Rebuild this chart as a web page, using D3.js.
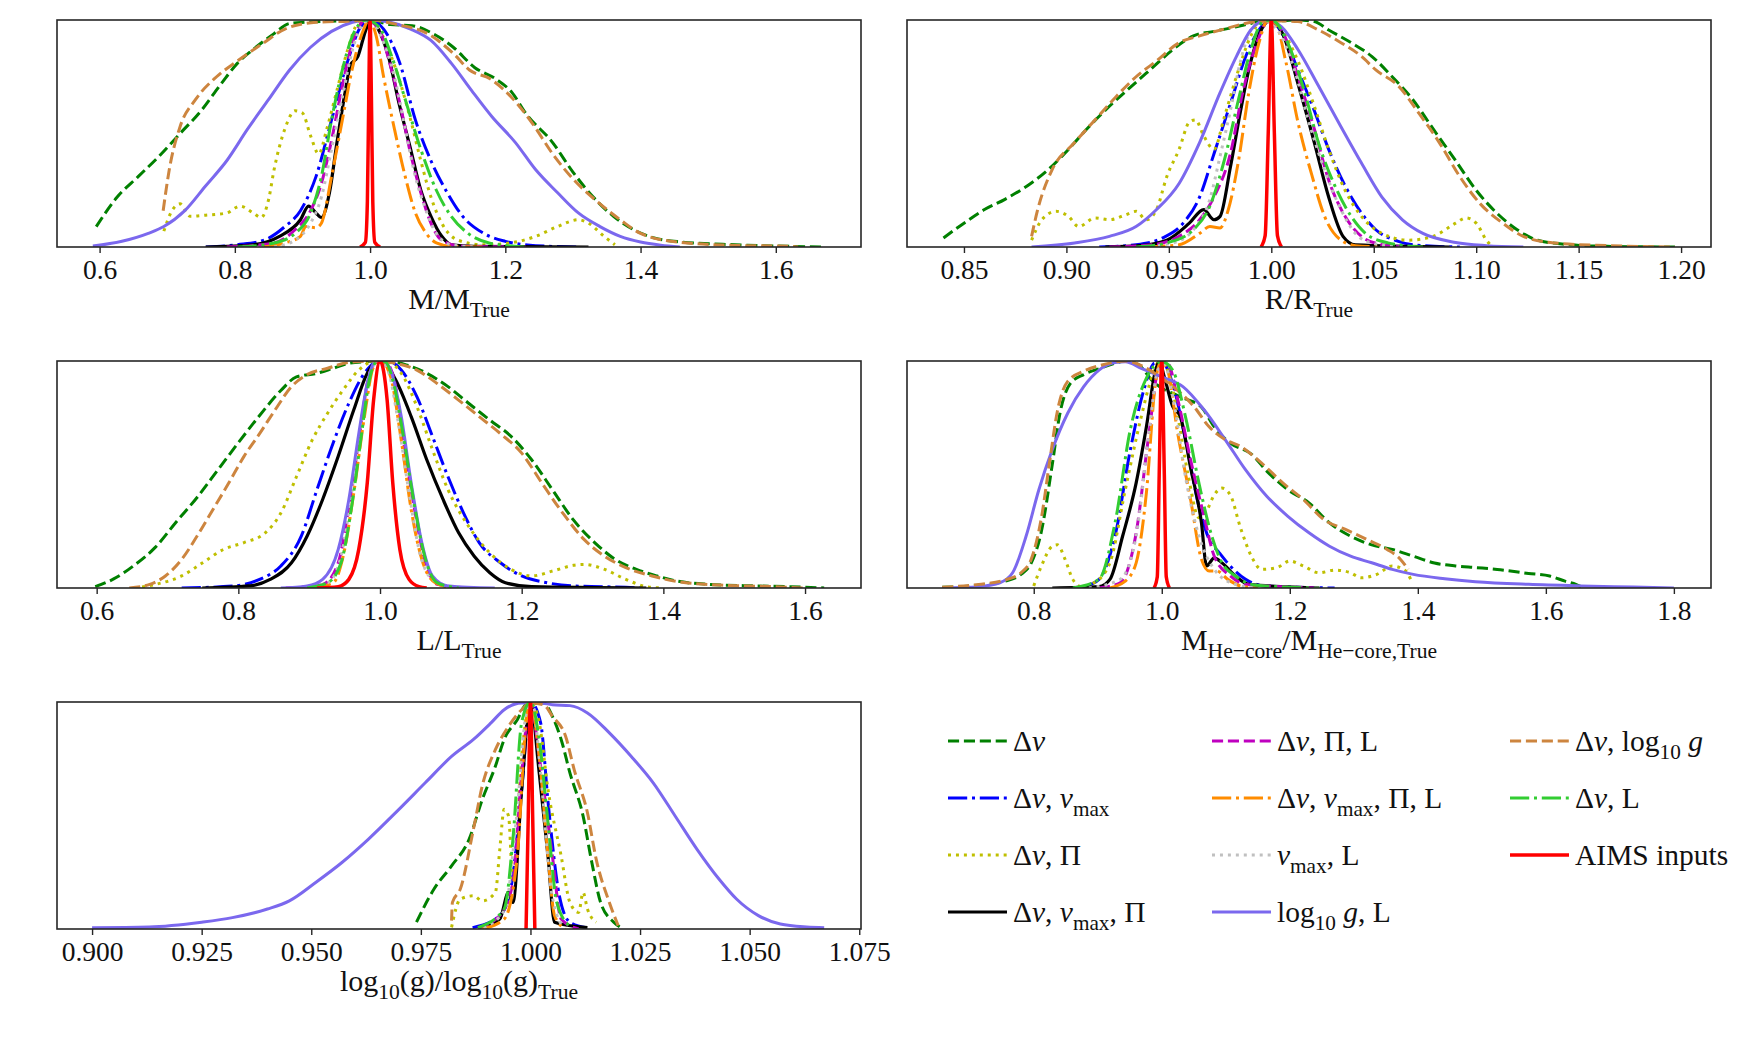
<!DOCTYPE html>
<html><head><meta charset="utf-8">
<script src="https://cdn.jsdelivr.net/npm/d3@7"></script>
<style>body{margin:0;background:#fff}</style>
</head><body>
<svg id="c" width="1756" height="1041"></svg>
<script>
// ---------- series (plot order == legend order, column-major) ----------
const seriesLabels = [
  "Δ*ν*", "Δ*ν*, *ν*_{max}", "Δ*ν*, Π", "Δ*ν*, *ν*_{max}, Π",
  "Δ*ν*, Π, L", "Δ*ν*, *ν*_{max}, Π, L", "*ν*_{max}, L", "log_{10} *g*, L",
  "Δ*ν*, log_{10} *g*", "Δ*ν*, L", "AIMS inputs"
];

// ---------- panel axes ----------
const massTicks = [0.6, 0.8, 1.0, 1.2, 1.4, 1.6];
const radiusTicks = [0.85, 0.90, 0.95, 1.00, 1.05, 1.10, 1.15, 1.20];
const lumTicks = [0.6, 0.8, 1.0, 1.2, 1.4, 1.6];
const coreTicks = [0.8, 1.0, 1.2, 1.4, 1.6, 1.8];
const loggTicks = [0.900, 0.925, 0.950, 0.975, 1.000, 1.025, 1.050, 1.075];
const massRange = [0.537, 1.726];
const radiusRange = [0.8222, 1.2146];
const lumRange = [0.544, 1.679];
const coreRange = [0.602, 1.858];
const loggRange = [0.892, 1.0754];

// ---------- curves: [ratio, normalised density] ----------
const massCurves = [
  [[0.595,0.09],[0.626,0.22],[0.657,0.31],[0.688,0.40],[0.719,0.50],[0.75,0.60],[0.78,0.72],[0.804,0.81],[0.827,0.87],[0.858,0.94],[0.881,0.985],[0.905,0.99],[0.943,0.995],[1.0,1.0],[1.03,0.98],[1.062,0.975],[1.093,0.94],[1.123,0.88],[1.155,0.79],[1.186,0.74],[1.21,0.68],[1.23,0.59],[1.27,0.46],[1.30,0.33],[1.33,0.22],[1.36,0.135],[1.39,0.076],[1.42,0.04],[1.46,0.022],[1.54,0.01],[1.62,0.003],[1.672,0]],
  [[0.757,0],[0.804,0.01],[0.843,0.03],[0.874,0.09],[0.897,0.16],[0.92,0.31],[0.943,0.56],[0.967,0.82],[0.986,0.97],[1.0,1.0],[1.02,0.96],[1.044,0.81],[1.067,0.56],[1.09,0.38],[1.114,0.24],[1.137,0.135],[1.168,0.06],[1.2,0.025],[1.245,0.006],[1.31,0]],
  [[0.695,0.07],[0.707,0.16],[0.719,0.19],[0.734,0.135],[0.757,0.14],[0.788,0.15],[0.808,0.18],[0.827,0.15],[0.839,0.13],[0.85,0.21],[0.858,0.34],[0.874,0.52],[0.889,0.60],[0.90,0.59],[0.912,0.49],[0.924,0.41],[0.936,0.52],[0.951,0.69],[0.967,0.87],[0.982,0.985],[0.998,1.0],[1.013,0.96],[1.03,0.85],[1.045,0.72],[1.06,0.56],[1.075,0.38],[1.09,0.22],[1.106,0.105],[1.13,0.03],[1.168,0.01],[1.207,0.018],[1.245,0.047],[1.277,0.09],[1.308,0.12],[1.323,0.105],[1.346,0.047],[1.362,0.01]],
  [[0.757,0],[0.827,0.01],[0.866,0.047],[0.897,0.12],[0.909,0.18],[0.92,0.15],[0.928,0.13],[0.94,0.24],[0.951,0.46],[0.963,0.68],[0.971,0.80],[0.982,0.84],[0.993,0.95],[1.0,1.0],[1.012,0.96],[1.028,0.83],[1.043,0.63],[1.06,0.43],[1.075,0.25],[1.09,0.135],[1.106,0.047],[1.12,0.01],[1.153,0.003],[1.323,0]],
  [[0.788,0],[0.858,0.018],[0.889,0.076],[0.912,0.16],[0.928,0.28],[0.943,0.47],[0.959,0.71],[0.974,0.90],[0.994,1.0],[1.013,0.96],[1.029,0.81],[1.045,0.62],[1.06,0.41],[1.075,0.24],[1.09,0.105],[1.106,0.03],[1.137,0.003],[1.23,0]],
  [[0.843,0],[0.874,0.018],[0.897,0.047],[0.905,0.09],[0.92,0.085],[0.928,0.105],[0.943,0.31],[0.959,0.56],[0.974,0.79],[0.99,0.955],[0.998,1.0],[1.009,0.93],[1.02,0.75],[1.036,0.52],[1.052,0.31],[1.067,0.15],[1.083,0.06],[1.098,0.018],[1.12,0.003],[1.17,0]],
  [[0.858,0],[0.889,0.03],[0.912,0.105],[0.928,0.22],[0.943,0.43],[0.959,0.66],[0.974,0.87],[0.99,0.985],[1.0,1.0],[1.016,0.93],[1.036,0.75],[1.052,0.52],[1.067,0.31],[1.083,0.16],[1.098,0.06],[1.12,0.01],[1.153,0]],
  [[0.59,0.004],[0.633,0.025],[0.672,0.06],[0.695,0.09],[0.726,0.16],[0.757,0.27],[0.788,0.38],[0.819,0.52],[0.85,0.65],[0.881,0.78],[0.912,0.88],[0.943,0.95],[0.974,0.99],[0.998,1.0],[1.03,0.99],[1.06,0.96],[1.09,0.91],[1.12,0.81],[1.15,0.69],[1.18,0.575],[1.215,0.46],[1.245,0.34],[1.277,0.24],[1.308,0.15],[1.34,0.09],[1.37,0.047],[1.40,0.022],[1.43,0.008],[1.458,0]],
  [[0.694,0.16],[0.703,0.34],[0.719,0.53],[0.742,0.65],[0.773,0.75],[0.804,0.82],[0.843,0.90],[0.874,0.96],[0.92,0.99],[0.967,0.995],[1.0,1.0],[1.04,0.98],[1.085,0.94],[1.124,0.85],[1.147,0.78],[1.178,0.74],[1.209,0.66],[1.24,0.545],[1.27,0.41],[1.30,0.30],[1.34,0.19],[1.37,0.12],[1.40,0.06],[1.46,0.02],[1.54,0.007],[1.62,0.003],[1.633,0]],
  [[0.804,0],[0.858,0.018],[0.889,0.06],[0.912,0.15],[0.928,0.31],[0.943,0.56],[0.959,0.78],[0.974,0.93],[0.994,1.0],[1.013,0.97],[1.032,0.84],[1.052,0.65],[1.075,0.43],[1.098,0.25],[1.12,0.135],[1.145,0.06],[1.176,0.018],[1.23,0]],
  [[0.985,0],[0.993,0.02],[0.996,0.2],[0.998,0.65],[1.0,1.0],[1.002,0.65],[1.004,0.2],[1.007,0.02],[1.015,0]]
];

const radiusCurves = [
  [[0.84,0.04],[0.85,0.105],[0.86,0.165],[0.87,0.21],[0.881,0.27],[0.891,0.34],[0.901,0.43],[0.911,0.53],[0.921,0.62],[0.932,0.71],[0.942,0.79],[0.952,0.87],[0.962,0.93],[0.972,0.95],[0.983,0.97],[0.993,0.99],[1.003,0.995],[1.013,1.0],[1.021,0.993],[1.028,0.956],[1.039,0.90],[1.049,0.84],[1.059,0.75],[1.069,0.65],[1.079,0.52],[1.09,0.38],[1.10,0.25],[1.11,0.15],[1.12,0.076],[1.13,0.03],[1.146,0.01],[1.164,0.003],[1.197,0]],
  [[0.916,0],[0.934,0.01],[0.947,0.04],[0.957,0.105],[0.965,0.22],[0.972,0.41],[0.98,0.63],[0.988,0.85],[0.994,0.956],[0.999,1.0],[1.006,0.93],[1.013,0.78],[1.021,0.60],[1.028,0.43],[1.036,0.27],[1.044,0.15],[1.051,0.076],[1.062,0.025],[1.074,0.006],[1.092,0]],
  [[0.883,0.03],[0.888,0.12],[0.895,0.157],[0.901,0.135],[0.906,0.09],[0.914,0.128],[0.921,0.12],[0.929,0.142],[0.934,0.157],[0.939,0.12],[0.944,0.165],[0.949,0.31],[0.955,0.43],[0.96,0.55],[0.963,0.56],[0.967,0.49],[0.972,0.43],[0.977,0.57],[0.984,0.78],[0.99,0.93],[0.995,0.993],[1.0,1.0],[1.005,0.956],[1.013,0.82],[1.021,0.62],[1.028,0.43],[1.036,0.25],[1.044,0.135],[1.054,0.06],[1.067,0.03],[1.079,0.047],[1.09,0.105],[1.095,0.128],[1.10,0.105],[1.105,0.03],[1.108,0]],
  [[0.919,0],[0.936,0.006],[0.949,0.03],[0.96,0.105],[0.967,0.165],[0.972,0.12],[0.975,0.135],[0.98,0.35],[0.985,0.60],[0.989,0.78],[0.993,0.91],[0.998,0.993],[1.0,1.0],[1.006,0.93],[1.013,0.72],[1.021,0.46],[1.028,0.22],[1.035,0.047],[1.041,0.01],[1.087,0]],
  [[0.921,0],[0.942,0.01],[0.955,0.047],[0.965,0.12],[0.972,0.22],[0.98,0.41],[0.986,0.68],[0.993,0.90],[0.999,1.0],[1.006,0.94],[1.013,0.75],[1.021,0.52],[1.028,0.295],[1.036,0.135],[1.044,0.047],[1.054,0.01],[1.064,0]],
  [[0.939,0],[0.955,0.01],[0.965,0.06],[0.97,0.09],[0.975,0.084],[0.979,0.164],[0.984,0.38],[0.989,0.68],[0.994,0.90],[0.998,0.993],[1.002,0.985],[1.007,0.82],[1.013,0.55],[1.02,0.31],[1.026,0.135],[1.034,0.03],[1.041,0.006],[1.054,0]],
  [[0.937,0],[0.952,0.018],[0.962,0.076],[0.97,0.21],[0.975,0.40],[0.98,0.60],[0.985,0.82],[0.99,0.956],[0.995,1.0],[1.003,0.956],[1.011,0.79],[1.018,0.56],[1.026,0.34],[1.034,0.165],[1.041,0.06],[1.049,0.018],[1.062,0]],
  [[0.883,0],[0.904,0.018],[0.921,0.047],[0.934,0.09],[0.944,0.165],[0.955,0.28],[0.965,0.46],[0.975,0.68],[0.983,0.84],[0.99,0.956],[0.998,1.0],[1.005,0.97],[1.013,0.87],[1.023,0.71],[1.034,0.53],[1.044,0.37],[1.054,0.22],[1.064,0.12],[1.074,0.06],[1.09,0.02],[1.105,0.006],[1.123,0]],
  [[0.883,0.047],[0.886,0.165],[0.893,0.34],[0.904,0.46],[0.914,0.56],[0.924,0.66],[0.934,0.75],[0.944,0.82],[0.955,0.90],[0.965,0.93],[0.977,0.96],[0.993,0.993],[1.005,0.996],[1.013,0.993],[1.023,0.956],[1.034,0.90],[1.044,0.84],[1.051,0.78],[1.062,0.71],[1.072,0.59],[1.082,0.46],[1.092,0.31],[1.102,0.19],[1.113,0.105],[1.123,0.047],[1.138,0.018],[1.164,0.006],[1.197,0]],
  [[0.934,0],[0.949,0.018],[0.962,0.076],[0.97,0.18],[0.977,0.38],[0.984,0.65],[0.99,0.87],[0.996,0.993],[1.0,1.0],[1.008,0.90],[1.016,0.69],[1.023,0.46],[1.031,0.27],[1.039,0.135],[1.046,0.06],[1.057,0.018],[1.074,0]],
  [[0.995,0],[0.997,0.05],[0.9985,0.5],[1.0,1.0],[1.0015,0.5],[1.003,0.05],[1.005,0]]
];

const lumCurves = [
  [[0.598,0.006],[0.624,0.04],[0.653,0.1],[0.683,0.18],[0.712,0.29],[0.742,0.40],[0.771,0.52],[0.80,0.64],[0.83,0.76],[0.86,0.87],[0.882,0.93],[0.911,0.946],[0.934,0.968],[0.956,0.99],[0.978,0.997],[1.007,1.0],[1.037,0.983],[1.066,0.946],[1.096,0.887],[1.125,0.814],[1.155,0.74],[1.185,0.668],[1.214,0.565],[1.244,0.43],[1.273,0.30],[1.303,0.2],[1.332,0.126],[1.362,0.082],[1.391,0.053],[1.42,0.03],[1.465,0.016],[1.531,0.009],[1.598,0.004],[1.627,0]],
  [[0.72,0],[0.793,0.009],[0.83,0.038],[0.86,0.097],[0.889,0.23],[0.911,0.433],[0.934,0.64],[0.956,0.814],[0.978,0.946],[0.996,0.997],[1.011,1.0],[1.03,0.96],[1.052,0.843],[1.074,0.668],[1.096,0.49],[1.118,0.33],[1.14,0.2],[1.17,0.111],[1.2,0.053],[1.236,0.023],[1.273,0.009],[1.347,0.003],[1.369,0]],
  [[0.653,0],[0.683,0.016],[0.72,0.053],[0.749,0.11],[0.779,0.17],[0.808,0.2],[0.838,0.243],[0.86,0.33],[0.882,0.49],[0.904,0.65],[0.926,0.77],[0.948,0.873],[0.97,0.96],[0.989,0.997],[1.007,1.0],[1.03,0.946],[1.052,0.80],[1.074,0.61],[1.096,0.433],[1.125,0.272],[1.155,0.155],[1.185,0.082],[1.214,0.053],[1.244,0.075],[1.273,0.1],[1.288,0.104],[1.317,0.082],[1.347,0.038],[1.376,0.006],[1.398,0]],
  [[0.749,0],[0.815,0.009],[0.845,0.038],[0.875,0.111],[0.897,0.228],[0.919,0.39],[0.941,0.58],[0.963,0.785],[0.982,0.946],[0.996,0.997],[1.007,0.99],[1.022,0.917],[1.044,0.755],[1.066,0.565],[1.089,0.39],[1.111,0.243],[1.133,0.14],[1.155,0.067],[1.177,0.023],[1.214,0.006],[1.376,0]],
  [[0.867,0],[0.919,0.016],[0.941,0.111],[0.956,0.36],[0.97,0.65],[0.984,0.93],[0.996,0.997],[1.007,0.997],[1.02,0.917],[1.033,0.65],[1.048,0.36],[1.063,0.126],[1.081,0.016],[1.125,0]],
  [[0.904,0],[0.934,0.023],[0.948,0.14],[0.963,0.42],[0.978,0.755],[0.991,0.975],[1.001,1.0],[1.015,0.93],[1.03,0.65],[1.044,0.345],[1.059,0.126],[1.078,0.023],[1.103,0]],
  [[0.882,0],[0.926,0.023],[0.945,0.14],[0.96,0.42],[0.974,0.74],[0.987,0.96],[0.999,1.0],[1.011,0.96],[1.026,0.726],[1.041,0.42],[1.055,0.17],[1.074,0.038],[1.111,0]],
  [[0.86,0],[0.897,0.009],[0.919,0.038],[0.941,0.17],[0.956,0.39],[0.97,0.68],[0.982,0.90],[0.993,0.997],[1.004,1.0],[1.015,0.96],[1.03,0.755],[1.044,0.463],[1.059,0.2],[1.074,0.053],[1.096,0.009],[1.162,0]],
  [[0.646,0],[0.675,0.016],[0.697,0.053],[0.72,0.126],[0.742,0.23],[0.764,0.345],[0.786,0.46],[0.808,0.58],[0.83,0.68],[0.852,0.785],[0.875,0.887],[0.897,0.94],[0.926,0.968],[0.956,0.994],[0.993,1.0],[1.022,0.99],[1.052,0.96],[1.081,0.90],[1.11,0.83],[1.14,0.755],[1.17,0.68],[1.20,0.594],[1.229,0.46],[1.258,0.33],[1.288,0.214],[1.317,0.14],[1.347,0.09],[1.384,0.053],[1.42,0.028],[1.48,0.013],[1.553,0.006],[1.598,0]],
  [[0.897,0],[0.926,0.023],[0.945,0.111],[0.96,0.36],[0.974,0.68],[0.985,0.917],[0.996,0.997],[1.007,0.997],[1.018,0.917],[1.033,0.668],[1.048,0.375],[1.063,0.14],[1.081,0.023],[1.111,0]],
  [[0.911,0],[0.941,0.006],[0.956,0.038],[0.97,0.17],[0.982,0.463],[0.991,0.83],[1.0,1.0],[1.01,0.83],[1.018,0.463],[1.028,0.17],[1.041,0.038],[1.055,0.006],[1.066,0]]
];

const coreCurves = [
  [[0.657,0.003],[0.714,0.012],[0.755,0.03],[0.78,0.06],[0.796,0.11],[0.812,0.25],[0.829,0.545],[0.841,0.77],[0.857,0.90],[0.878,0.94],[0.902,0.966],[0.927,0.99],[0.943,1.0],[0.964,0.983],[0.984,0.917],[1.0,0.88],[1.017,0.857],[1.037,0.833],[1.062,0.797],[1.082,0.71],[1.107,0.638],[1.14,0.59],[1.164,0.515],[1.197,0.433],[1.23,0.375],[1.262,0.287],[1.295,0.228],[1.328,0.19],[1.36,0.17],[1.393,0.14],[1.426,0.11],[1.459,0.097],[1.49,0.09],[1.524,0.082],[1.573,0.064],[1.606,0.053],[1.63,0.03],[1.647,0.016],[1.655,0.006]],
  [[0.878,0.006],[0.902,0.038],[0.927,0.23],[0.951,0.61],[0.972,0.873],[0.988,0.99],[1.0,0.997],[1.017,0.90],[1.037,0.654],[1.058,0.36],[1.074,0.214],[1.09,0.155],[1.107,0.097],[1.131,0.038],[1.164,0.009],[1.27,0]],
  [[0.8,0.009],[0.812,0.097],[0.829,0.184],[0.837,0.19],[0.849,0.126],[0.861,0.038],[0.874,0.006],[0.894,0.023],[0.919,0.111],[0.943,0.433],[0.968,0.755],[0.984,0.925],[0.996,0.997],[1.009,0.96],[1.025,0.755],[1.041,0.5],[1.058,0.31],[1.07,0.34],[1.082,0.41],[1.094,0.44],[1.107,0.41],[1.123,0.265],[1.14,0.14],[1.156,0.082],[1.18,0.09],[1.2,0.119],[1.221,0.097],[1.246,0.067],[1.27,0.079],[1.295,0.067],[1.311,0.045],[1.336,0.06],[1.36,0.097],[1.381,0.075],[1.389,0.038]],
  [[0.829,0],[0.902,0.006],[0.919,0.038],[0.939,0.23],[0.96,0.463],[0.976,0.71],[0.99,0.955],[0.996,0.997],[1.004,0.93],[1.017,0.80],[1.029,0.755],[1.045,0.53],[1.062,0.287],[1.07,0.097],[1.082,0.133],[1.094,0.111],[1.115,0.053],[1.136,0.016],[1.246,0]],
  [[0.902,0],[0.935,0.023],[0.96,0.243],[0.98,0.68],[0.996,0.975],[1.009,0.99],[1.025,0.83],[1.045,0.565],[1.066,0.316],[1.082,0.14],[1.107,0.053],[1.131,0.016],[1.246,0]],
  [[0.919,0],[0.943,0.03],[0.96,0.111],[0.976,0.42],[0.99,0.90],[0.998,0.997],[1.009,0.96],[1.025,0.68],[1.045,0.39],[1.062,0.126],[1.074,0.075],[1.086,0.075],[1.103,0.038],[1.123,0.009],[1.15,0]],
  [[0.886,0],[0.935,0.038],[0.96,0.23],[0.98,0.68],[0.994,0.96],[1.004,0.983],[1.02,0.80],[1.037,0.49],[1.058,0.23],[1.082,0.082],[1.115,0.016],[1.148,0]],
  [[0.657,0],[0.714,0.006],[0.747,0.023],[0.767,0.067],[0.788,0.228],[0.808,0.433],[0.829,0.61],[0.853,0.77],[0.878,0.887],[0.902,0.96],[0.927,0.993],[0.943,0.997],[0.968,0.968],[1.0,0.93],[1.033,0.887],[1.066,0.785],[1.099,0.654],[1.131,0.52],[1.164,0.404],[1.197,0.316],[1.23,0.243],[1.262,0.184],[1.295,0.14],[1.328,0.111],[1.36,0.082],[1.393,0.06],[1.442,0.041],[1.49,0.028],[1.573,0.016],[1.655,0.009],[1.737,0.004],[1.80,0]],
  [[0.657,0.003],[0.714,0.016],[0.755,0.035],[0.78,0.067],[0.796,0.126],[0.812,0.31],[0.825,0.56],[0.837,0.78],[0.853,0.91],[0.878,0.955],[0.91,0.985],[0.943,1.0],[0.976,0.968],[1.0,0.924],[1.025,0.87],[1.05,0.80],[1.074,0.71],[1.099,0.654],[1.123,0.624],[1.156,0.55],[1.189,0.463],[1.221,0.39],[1.254,0.30],[1.287,0.258],[1.32,0.214],[1.352,0.17],[1.373,0.126],[1.385,0.082]],
  [[0.861,0],[0.902,0.038],[0.927,0.287],[0.951,0.70],[0.976,0.925],[1.0,0.997],[1.017,0.96],[1.037,0.755],[1.058,0.463],[1.078,0.23],[1.094,0.111],[1.115,0.053],[1.148,0.012],[1.246,0]],
  [[0.988,0],[0.993,0.05],[0.996,0.5],[1.0,1.0],[1.004,0.5],[1.007,0.05],[1.012,0]]
];

const loggCurves = [
  [[0.974,0.03],[0.978,0.176],[0.982,0.278],[0.986,0.395],[0.989,0.57],[0.992,0.717],[0.994,0.835],[0.997,0.922],[0.999,0.988],[1.003,0.996],[1.005,0.937],[1.007,0.835],[1.009,0.688],[1.012,0.498],[1.014,0.293],[1.016,0.117],[1.019,0.03],[1.021,0.003]],
  [[0.9868,0.006],[0.993,0.059],[0.9955,0.176],[0.998,0.615],[1.0,1.0],[1.0023,0.91],[1.0041,0.542],[1.0066,0.146],[1.009,0.03],[1.0128,0.006]],
  [[0.982,0.007],[0.984,0.132],[0.987,0.146],[0.989,0.124],[0.992,0.161],[0.993,0.35],[0.994,0.527],[0.995,0.498],[0.996,0.205],[0.998,0.76],[1.0,1.0],[1.002,0.91],[1.004,0.615],[1.007,0.322],[1.009,0.117],[1.011,0.073],[1.012,0.161],[1.013,0.088],[1.015,0.03]],
  [[0.988,0.006],[0.993,0.044],[0.995,0.161],[0.996,0.117],[0.998,0.615],[1.0,1.0],[1.002,0.688],[1.004,0.322],[1.0055,0.03],[1.013,0.006]],
  [[0.988,0.006],[0.993,0.059],[0.996,0.205],[0.998,0.688],[1.0,1.0],[1.002,0.76],[1.005,0.322],[1.007,0.044],[1.011,0]],
  [[0.989,0],[0.994,0.044],[0.997,0.322],[0.999,0.91],[1.0,1.0],[1.002,0.76],[1.004,0.322],[1.0055,0.059],[1.008,0]],
  [[0.9893,0.006],[0.9942,0.088],[0.9967,0.468],[0.9992,0.966],[1.0004,1.0],[1.0023,0.688],[1.0047,0.176],[1.0072,0.015]],
  [[0.9,0.006],[0.913,0.009],[0.925,0.03],[0.932,0.05],[0.94,0.088],[0.945,0.124],[0.951,0.205],[0.957,0.293],[0.963,0.395],[0.97,0.527],[0.976,0.644],[0.982,0.76],[0.987,0.835],[0.991,0.908],[0.994,0.966],[0.998,0.996],[1.002,0.996],[1.005,0.988],[1.009,0.984],[1.013,0.952],[1.018,0.864],[1.023,0.76],[1.028,0.644],[1.033,0.498],[1.038,0.351],[1.043,0.22],[1.047,0.132],[1.052,0.059],[1.057,0.022],[1.063,0.009],[1.067,0.006]],
  [[0.982,0.037],[0.9822,0.117],[0.984,0.176],[0.987,0.44],[0.989,0.63],[0.992,0.79],[0.995,0.893],[0.998,0.966],[1.0,0.996],[1.003,0.988],[1.005,0.937],[1.008,0.85],[1.01,0.70],[1.013,0.512],[1.015,0.307],[1.018,0.117],[1.02,0.015]],
  [[0.988,0.006],[0.994,0.088],[0.996,0.395],[0.998,0.91],[1.0,1.0],[1.002,0.835],[1.004,0.468],[1.006,0.117],[1.009,0.012]],
  [[0.999,0],[0.9995,0.5],[1.0,1.0],[1.0005,0.5],[1.001,0]]
];

// ---------- styles ----------
const DASH = "11.1,4.8", DASHDOT = "19.2,4.8,3,4.8", DOT = "3,4.95";
const styles = [
  {c:"#008000", d:DASH, w:3}, {c:"#0000ff", d:DASHDOT, w:3}, {c:"#bfbf00", d:DOT, w:3},
  {c:"#000000", d:null, w:3.2}, {c:"#bf00bf", d:DASH, w:3}, {c:"#ff8c00", d:DASHDOT, w:3},
  {c:"#c0c0c0", d:DOT, w:3}, {c:"#7b68ee", d:null, w:3}, {c:"#cd853f", d:DASH, w:3},
  {c:"#32cd32", d:DASHDOT, w:3}, {c:"#ff0000", d:null, w:3.5}
];

const FONT = "'Liberation Serif', 'DejaVu Serif', serif";
const TICK_FS = 27.5, LABEL_FS = 30, LEG_FS = 29.5;
const svg = d3.select("#c");

function rich(textSel, str, fs) {
  const parts = str.match(/\*[^*]+\*|_\{[^}]+\}|[^*_]+/g);
  let shifted = false;
  const off = fs * 0.26;
  parts.forEach(p => {
    const t = textSel.append("tspan");
    if (p.startsWith("_{")) {
      t.text(p.slice(2, -1)).attr("font-size", fs * 0.72);
      if (!shifted) { t.attr("dy", off); shifted = true; }
    } else {
      if (shifted) { t.attr("dy", -off); shifted = false; }
      if (p.startsWith("*")) t.text(p.slice(1, -1)).attr("font-style", "italic");
      else t.text(p);
    }
  });
}

const colX = [57, 907], rowY = [20, 361, 702], PW = 804, PH = 227;
const panels = [
  {curves: massCurves, range: massRange, ticks: massTicks, fmt: ".1f", label: "M/M_{True}", c: 0, r: 0},
  {curves: radiusCurves, range: radiusRange, ticks: radiusTicks, fmt: ".2f", label: "R/R_{True}", c: 1, r: 0},
  {curves: lumCurves, range: lumRange, ticks: lumTicks, fmt: ".1f", label: "L/L_{True}", c: 0, r: 1},
  {curves: coreCurves, range: coreRange, ticks: coreTicks, fmt: ".1f", label: "M_{He−core}/M_{He−core,True}", c: 1, r: 1},
  {curves: loggCurves, range: loggRange, ticks: loggTicks, fmt: ".3f", label: "log_{10}(g)/log_{10}(g)_{True}", c: 0, r: 2}
];

panels.forEach((p, i) => {
  const x0 = colX[p.c], y0 = rowY[p.r];
  const g = svg.append("g").attr("transform", `translate(${x0},${y0})`);
  const x = d3.scaleLinear().domain(p.range).range([0, PW]);
  const y = d3.scaleLinear().domain([0, 1]).range([PH, 0]);
  const cid = "clip" + i;
  g.append("clipPath").attr("id", cid).append("rect").attr("width", PW).attr("height", PH);
  const line = d3.line().x(d => x(d[0])).y(d => y(d[1])).curve(d3.curveMonotoneX);
  const lg = g.append("g").attr("clip-path", `url(#${cid})`);
  p.curves.forEach((pts, k) => {
    const s = styles[k];
    lg.append("path").attr("d", line(pts)).attr("fill", "none")
      .attr("stroke", s.c).attr("stroke-width", s.w)
      .attr("stroke-dasharray", s.d).attr("stroke-linejoin", "round");
  });
  g.append("rect").attr("width", PW).attr("height", PH).attr("fill", "none")
    .attr("stroke", "#262626").attr("stroke-width", 1.6);
  const ax = g.append("g").attr("transform", `translate(0,${PH})`)
    .call(d3.axisBottom(x).tickValues(p.ticks).tickFormat(d3.format(p.fmt)).tickSize(6).tickPadding(6));
  ax.select(".domain").remove();
  ax.selectAll(".tick line").attr("stroke", "#262626").attr("stroke-width", 1.4);
  ax.selectAll(".tick text").attr("font-family", FONT).attr("font-size", TICK_FS).attr("fill", "#111");
  const t = svg.append("text").attr("x", x0 + PW / 2).attr("y", y0 + PH + 62)
    .attr("text-anchor", "middle").attr("font-family", FONT).attr("font-size", LABEL_FS).attr("fill", "#111");
  rich(t, p.label, LABEL_FS);
});

// ---------- legend ----------
const legX = [948, 1212, 1510], legY0 = 741, legDY = 57, handleLen = 59;
seriesLabels.forEach((lab, k) => {
  const col = Math.floor(k / 4), row = k % 4;
  const lx = legX[col], ly = legY0 + row * legDY;
  const s = styles[k];
  svg.append("line").attr("x1", lx).attr("x2", lx + handleLen).attr("y1", ly).attr("y2", ly)
    .attr("stroke", s.c).attr("stroke-width", s.w).attr("stroke-dasharray", s.d);
  const t = svg.append("text").attr("x", lx + handleLen + 6).attr("y", ly + 10)
    .attr("font-family", FONT).attr("font-size", LEG_FS).attr("fill", "#111");
  rich(t, lab, LEG_FS);
});
</script>
</body></html>
